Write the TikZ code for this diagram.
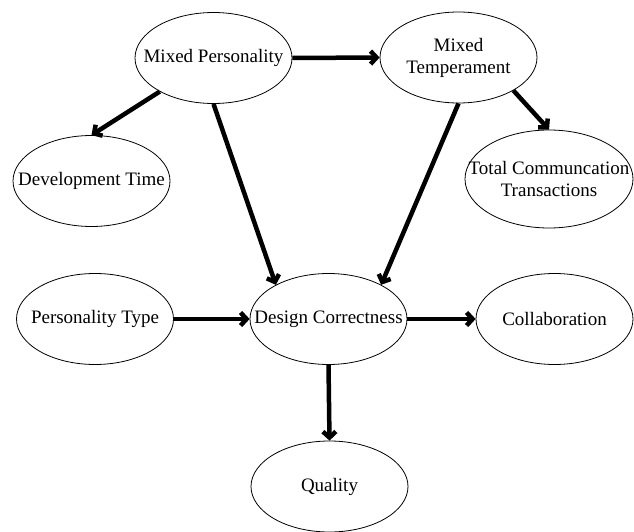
\documentclass[tikz,border=0pt]{standalone}
\usepackage{fontspec}
\setmainfont{Liberation Serif}
\usetikzlibrary{shapes.geometric,arrows.meta}
\begin{document}
\begin{tikzpicture}[x=1pt,y=-1pt,
  el/.style={ellipse,draw,line width=0.8pt,inner sep=0pt,minimum width=157pt,minimum height=91pt},
  txt/.style={align=center,inner sep=0pt,font=\fontsize{19}{22}\selectfont},
  conn/.style={line width=4.5pt,-{Straight Barb[length=6pt,width=13pt]}}]
\useasboundingbox (0,0) rectangle (634,532);
\node[el,label={[txt]center:Mixed Personality}] (mp) at (213.5,58) {};
\node[el,label={[txt]center:Mixed\\Temperament}] (mt) at (458.5,57.5) {};
\node[el,label={[txt]center:Development Time}] (dt) at (91.5,181) {};
\node[el,minimum width=168pt,minimum height=98pt,label={[txt]center:Total Communcation\\Transactions}] (tct) at (549,179) {};
\node[el,label={[txt]center:Personality Type}] (pt) at (95,319) {};
\node[el,label={[txt]center:Design Correctness}] (dc) at (328.5,319) {};
\node[el,label={[txt]center:Collaboration}] (co) at (554.5,319) {};
\node[el,label={[txt]center:Quality}] (qu) at (329.5,486.5) {};
\draw[conn] (mp.east) -- (mt.west);
\draw[conn] (mp.212.7) -- (dt.north);
\draw[conn] (mp.south) -- (dc.147);
\draw[conn] (mt.south) -- (dc.33);
\draw[conn] (mt.-31) -- (tct.north);
\draw[conn] (pt.east) -- (dc.west);
\draw[conn] (dc.east) -- (co.west);
\draw[conn] (dc.south) -- (qu.north);
\end{tikzpicture}
\end{document}
